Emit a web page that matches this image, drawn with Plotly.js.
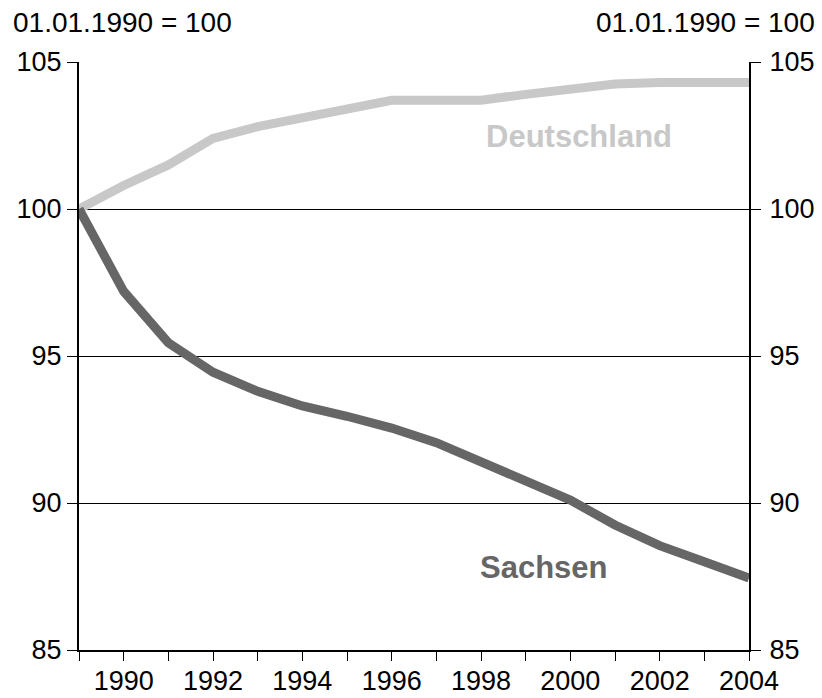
<!DOCTYPE html>
<html>
<head>
<meta charset="utf-8">
<script src="https://cdn.plot.ly/plotly-3.0.1.min.js"></script>
<style>
  html, body { margin: 0; padding: 0; background: #fff; }
  #chart { width: 822px; height: 698px; }
</style>
</head>
<body>
<div id="chart"></div>
<script>
// Bevoelkerungsentwicklung, 01.01.1990 = 100
var years = [1989, 1990, 1991, 1992, 1993, 1994, 1995, 1996, 1997, 1998, 1999, 2000, 2001, 2002, 2003, 2004];
var deutschland = [100, 100.8, 101.5, 102.4, 102.8, 103.1, 103.4, 103.7, 103.7, 103.7, 103.9, 104.05, 104.25, 104.3, 104.3, 104.3];
var sachsen = [100, 97.2, 95.45, 94.45, 93.8, 93.3, 92.95, 92.55, 92.05, 91.4, 90.8, 90.1, 89.25, 88.55, 88.0, 87.45];
var seriesNames = ['Deutschland', 'Sachsen'];
var axisNote = '01.01.1990 = 100';

var font = '"Liberation Sans", Arial, sans-serif';

var traceD = {
  x: years,
  y: deutschland,
  name: seriesNames[0],
  type: 'scatter',
  mode: 'lines',
  line: {color: '#c8c8c8', width: 9},
  hoverinfo: 'x+y'
};
var traceS = {
  x: years,
  y: sachsen,
  name: seriesNames[1],
  type: 'scatter',
  mode: 'lines',
  line: {color: '#666666', width: 9},
  hoverinfo: 'x+y'
};
// empty helper trace so the second axes pair (right y, tick-only x) exists
var helper = {x: [1989], y: [85], xaxis: 'x2', yaxis: 'y2', mode: 'markers',
  marker: {opacity: 0}, hoverinfo: 'skip', showlegend: false};

var yaxisBase = {
  range: [85, 105],
  dtick: 5,
  tick0: 85,
  showgrid: true,
  gridcolor: '#000',
  gridwidth: 1,
  zeroline: false,
  showline: true,
  linecolor: '#000',
  linewidth: 2,
  ticks: 'outside',
  ticklen: 10,
  tickcolor: '#000',
  tickfont: {family: font, size: 27, color: '#000'},
  fixedrange: true
};
var yaxis2 = JSON.parse(JSON.stringify(yaxisBase));
yaxis2.overlaying = 'y';
yaxis2.side = 'right';
yaxis2.showgrid = false;
yaxis2.ticklabelstandoff = 3;

var layout = {
  width: 822,
  height: 698,
  margin: {l: 79, r: 73, t: 62, b: 48},
  paper_bgcolor: '#fff',
  plot_bgcolor: '#fff',
  showlegend: false,
  xaxis: {
    range: [1989, 2004],
    tick0: 1990,
    dtick: 2,
    showgrid: false,
    zeroline: false,
    showline: true,
    linecolor: '#000',
    linewidth: 2,
    ticks: 'outside',
    ticklen: 6,
    tickcolor: '#000',
    tickfont: {family: font, size: 27, color: '#000'},
    fixedrange: true
  },
  // tick marks only (every year), no labels
  xaxis2: {
    overlaying: 'x',
    side: 'bottom',
    range: [1989, 2004],
    tick0: 1989,
    dtick: 1,
    showgrid: false,
    zeroline: false,
    showline: false,
    showticklabels: false,
    ticks: 'outside',
    ticklen: 10,
    tickcolor: '#000',
    fixedrange: true
  },
  yaxis: yaxisBase,
  yaxis2: yaxis2,
  annotations: [
    {text: axisNote, xref: 'paper', yref: 'paper', x: 0, y: 1, xanchor: 'left', yanchor: 'middle',
     xshift: -68, yshift: 40, showarrow: false, font: {family: font, size: 28, color: '#000'}},
    {text: axisNote, xref: 'paper', yref: 'paper', x: 1, y: 1, xanchor: 'right', yanchor: 'middle',
     xshift: 68, yshift: 40, showarrow: false, font: {family: font, size: 28, color: '#000'}},
    {text: '<b>' + seriesNames[0] + '</b>', x: 2000.2, y: 102.45, xref: 'x', yref: 'y', showarrow: false,
     font: {family: font, size: 31, color: '#c8c8c8'}},
    {text: '<b>' + seriesNames[1] + '</b>', x: 1999.4, y: 87.8, xref: 'x', yref: 'y', showarrow: false,
     font: {family: font, size: 31, color: '#666666'}}
  ]
};

Plotly.newPlot('chart', [traceD, traceS, helper], layout, {displayModeBar: false, staticPlot: true});
</script>
</body>
</html>
